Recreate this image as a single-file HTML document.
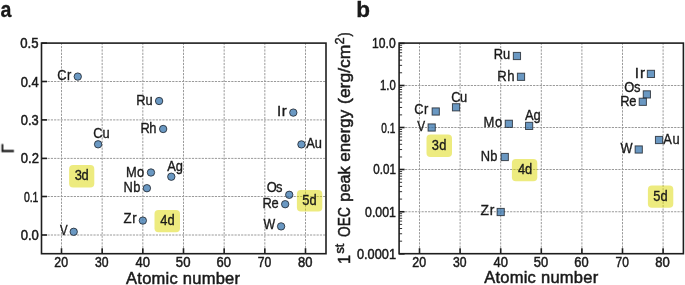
<!DOCTYPE html>
<html><head><meta charset="utf-8"><style>
html,body{margin:0;padding:0;background:#fff;overflow:hidden;}
svg{display:block;}
</style></head><body>
<svg xmlns="http://www.w3.org/2000/svg" width="685" height="285" viewBox="0 0 685 285">
<rect width="685" height="285" fill="#fff"/>
<line x1="61.50" y1="43.10" x2="61.50" y2="253.70" stroke="#9a9a9a" stroke-width="1.0" stroke-dasharray="2.2 1.185" stroke-dashoffset="0.51"/>
<line x1="102.17" y1="43.10" x2="102.17" y2="253.70" stroke="#9a9a9a" stroke-width="1.0" stroke-dasharray="2.2 1.185" stroke-dashoffset="0.51"/>
<line x1="142.83" y1="43.10" x2="142.83" y2="253.70" stroke="#9a9a9a" stroke-width="1.0" stroke-dasharray="2.2 1.185" stroke-dashoffset="0.51"/>
<line x1="183.50" y1="43.10" x2="183.50" y2="253.70" stroke="#9a9a9a" stroke-width="1.0" stroke-dasharray="2.2 1.185" stroke-dashoffset="0.51"/>
<line x1="224.17" y1="43.10" x2="224.17" y2="253.70" stroke="#9a9a9a" stroke-width="1.0" stroke-dasharray="2.2 1.185" stroke-dashoffset="0.51"/>
<line x1="264.84" y1="43.10" x2="264.84" y2="253.70" stroke="#9a9a9a" stroke-width="1.0" stroke-dasharray="2.2 1.185" stroke-dashoffset="0.51"/>
<line x1="305.50" y1="43.10" x2="305.50" y2="253.70" stroke="#9a9a9a" stroke-width="1.0" stroke-dasharray="2.2 1.185" stroke-dashoffset="0.51"/>
<line x1="41.50" y1="235.00" x2="326.00" y2="235.00" stroke="#9a9a9a" stroke-width="1.0" stroke-dasharray="2.2 1.081" stroke-dashoffset="0.543"/>
<line x1="41.50" y1="196.50" x2="326.00" y2="196.50" stroke="#9a9a9a" stroke-width="1.0" stroke-dasharray="2.2 1.081" stroke-dashoffset="0.543"/>
<line x1="41.50" y1="158.40" x2="326.00" y2="158.40" stroke="#9a9a9a" stroke-width="1.0" stroke-dasharray="2.2 1.081" stroke-dashoffset="0.543"/>
<line x1="41.50" y1="119.90" x2="326.00" y2="119.90" stroke="#9a9a9a" stroke-width="1.0" stroke-dasharray="2.2 1.081" stroke-dashoffset="0.543"/>
<line x1="41.50" y1="81.50" x2="326.00" y2="81.50" stroke="#9a9a9a" stroke-width="1.0" stroke-dasharray="2.2 1.081" stroke-dashoffset="0.543"/>
<line x1="419.50" y1="43.10" x2="419.50" y2="253.70" stroke="#9a9a9a" stroke-width="1.0" stroke-dasharray="2.2 1.185" stroke-dashoffset="0.51"/>
<line x1="460.10" y1="43.10" x2="460.10" y2="253.70" stroke="#9a9a9a" stroke-width="1.0" stroke-dasharray="2.2 1.185" stroke-dashoffset="0.51"/>
<line x1="500.70" y1="43.10" x2="500.70" y2="253.70" stroke="#9a9a9a" stroke-width="1.0" stroke-dasharray="2.2 1.185" stroke-dashoffset="0.51"/>
<line x1="541.30" y1="43.10" x2="541.30" y2="253.70" stroke="#9a9a9a" stroke-width="1.0" stroke-dasharray="2.2 1.185" stroke-dashoffset="0.51"/>
<line x1="581.90" y1="43.10" x2="581.90" y2="253.70" stroke="#9a9a9a" stroke-width="1.0" stroke-dasharray="2.2 1.185" stroke-dashoffset="0.51"/>
<line x1="622.50" y1="43.10" x2="622.50" y2="253.70" stroke="#9a9a9a" stroke-width="1.0" stroke-dasharray="2.2 1.185" stroke-dashoffset="0.51"/>
<line x1="663.10" y1="43.10" x2="663.10" y2="253.70" stroke="#9a9a9a" stroke-width="1.0" stroke-dasharray="2.2 1.185" stroke-dashoffset="0.51"/>
<line x1="399.10" y1="85.50" x2="683.40" y2="85.50" stroke="#9a9a9a" stroke-width="1.0" stroke-dasharray="2.2 1.081" stroke-dashoffset="0.543"/>
<line x1="399.10" y1="127.50" x2="683.40" y2="127.50" stroke="#9a9a9a" stroke-width="1.0" stroke-dasharray="2.2 1.081" stroke-dashoffset="0.543"/>
<line x1="399.10" y1="169.50" x2="683.40" y2="169.50" stroke="#9a9a9a" stroke-width="1.0" stroke-dasharray="2.2 1.081" stroke-dashoffset="0.543"/>
<line x1="399.10" y1="211.75" x2="683.40" y2="211.75" stroke="#9a9a9a" stroke-width="1.0" stroke-dasharray="2.2 1.081" stroke-dashoffset="0.543"/>
<rect x="69.10" y="165.10" width="25.20" height="22.40" rx="4" ry="4" fill="#dcd800" fill-opacity="0.5"/>
<rect x="154.50" y="209.90" width="25.50" height="22.40" rx="4" ry="4" fill="#dcd800" fill-opacity="0.5"/>
<rect x="296.90" y="189.90" width="25.40" height="21.60" rx="4" ry="4" fill="#dcd800" fill-opacity="0.5"/>
<rect x="426.50" y="134.60" width="25.50" height="22.40" rx="4" ry="4" fill="#dcd800" fill-opacity="0.5"/>
<rect x="511.90" y="159.10" width="25.40" height="22.20" rx="4" ry="4" fill="#dcd800" fill-opacity="0.5"/>
<rect x="647.90" y="185.60" width="25.40" height="22.10" rx="4" ry="4" fill="#dcd800" fill-opacity="0.5"/>
<line x1="61.50" y1="253.70" x2="61.50" y2="248.20" stroke="#1e1e1e" stroke-width="1.6"/>
<line x1="102.17" y1="253.70" x2="102.17" y2="248.20" stroke="#1e1e1e" stroke-width="1.6"/>
<line x1="142.83" y1="253.70" x2="142.83" y2="248.20" stroke="#1e1e1e" stroke-width="1.6"/>
<line x1="183.50" y1="253.70" x2="183.50" y2="248.20" stroke="#1e1e1e" stroke-width="1.6"/>
<line x1="224.17" y1="253.70" x2="224.17" y2="248.20" stroke="#1e1e1e" stroke-width="1.6"/>
<line x1="264.84" y1="253.70" x2="264.84" y2="248.20" stroke="#1e1e1e" stroke-width="1.6"/>
<line x1="305.50" y1="253.70" x2="305.50" y2="248.20" stroke="#1e1e1e" stroke-width="1.6"/>
<line x1="41.50" y1="235.00" x2="47.00" y2="235.00" stroke="#1e1e1e" stroke-width="1.6"/>
<line x1="41.50" y1="196.50" x2="47.00" y2="196.50" stroke="#1e1e1e" stroke-width="1.6"/>
<line x1="41.50" y1="158.40" x2="47.00" y2="158.40" stroke="#1e1e1e" stroke-width="1.6"/>
<line x1="41.50" y1="119.90" x2="47.00" y2="119.90" stroke="#1e1e1e" stroke-width="1.6"/>
<line x1="41.50" y1="81.50" x2="47.00" y2="81.50" stroke="#1e1e1e" stroke-width="1.6"/>
<line x1="41.50" y1="43.12" x2="47.00" y2="43.12" stroke="#1e1e1e" stroke-width="1.6"/>
<rect x="41.50" y="43.10" width="284.50" height="210.60" fill="none" stroke="#1e1e1e" stroke-width="1.6"/>
<line x1="419.50" y1="253.70" x2="419.50" y2="248.20" stroke="#1e1e1e" stroke-width="1.6"/>
<line x1="460.10" y1="253.70" x2="460.10" y2="248.20" stroke="#1e1e1e" stroke-width="1.6"/>
<line x1="500.70" y1="253.70" x2="500.70" y2="248.20" stroke="#1e1e1e" stroke-width="1.6"/>
<line x1="541.30" y1="253.70" x2="541.30" y2="248.20" stroke="#1e1e1e" stroke-width="1.6"/>
<line x1="581.90" y1="253.70" x2="581.90" y2="248.20" stroke="#1e1e1e" stroke-width="1.6"/>
<line x1="622.50" y1="253.70" x2="622.50" y2="248.20" stroke="#1e1e1e" stroke-width="1.6"/>
<line x1="663.10" y1="253.70" x2="663.10" y2="248.20" stroke="#1e1e1e" stroke-width="1.6"/>
<line x1="399.10" y1="43.35" x2="404.60" y2="43.35" stroke="#1e1e1e" stroke-width="1.6"/>
<line x1="399.10" y1="85.50" x2="404.60" y2="85.50" stroke="#1e1e1e" stroke-width="1.6"/>
<line x1="399.10" y1="127.50" x2="404.60" y2="127.50" stroke="#1e1e1e" stroke-width="1.6"/>
<line x1="399.10" y1="169.50" x2="404.60" y2="169.50" stroke="#1e1e1e" stroke-width="1.6"/>
<line x1="399.10" y1="211.75" x2="404.60" y2="211.75" stroke="#1e1e1e" stroke-width="1.6"/>
<line x1="399.10" y1="253.85" x2="404.60" y2="253.85" stroke="#1e1e1e" stroke-width="1.6"/>
<line x1="399.10" y1="241.18" x2="402.10" y2="241.18" stroke="#1e1e1e" stroke-width="0.9"/>
<line x1="399.10" y1="233.76" x2="402.10" y2="233.76" stroke="#1e1e1e" stroke-width="0.9"/>
<line x1="399.10" y1="228.50" x2="402.10" y2="228.50" stroke="#1e1e1e" stroke-width="0.9"/>
<line x1="399.10" y1="224.42" x2="402.10" y2="224.42" stroke="#1e1e1e" stroke-width="0.9"/>
<line x1="399.10" y1="221.09" x2="402.10" y2="221.09" stroke="#1e1e1e" stroke-width="0.9"/>
<line x1="399.10" y1="218.27" x2="402.10" y2="218.27" stroke="#1e1e1e" stroke-width="0.9"/>
<line x1="399.10" y1="215.83" x2="402.10" y2="215.83" stroke="#1e1e1e" stroke-width="0.9"/>
<line x1="399.10" y1="213.68" x2="402.10" y2="213.68" stroke="#1e1e1e" stroke-width="0.9"/>
<line x1="399.10" y1="199.08" x2="402.10" y2="199.08" stroke="#1e1e1e" stroke-width="0.9"/>
<line x1="399.10" y1="191.66" x2="402.10" y2="191.66" stroke="#1e1e1e" stroke-width="0.9"/>
<line x1="399.10" y1="186.40" x2="402.10" y2="186.40" stroke="#1e1e1e" stroke-width="0.9"/>
<line x1="399.10" y1="182.32" x2="402.10" y2="182.32" stroke="#1e1e1e" stroke-width="0.9"/>
<line x1="399.10" y1="178.99" x2="402.10" y2="178.99" stroke="#1e1e1e" stroke-width="0.9"/>
<line x1="399.10" y1="176.17" x2="402.10" y2="176.17" stroke="#1e1e1e" stroke-width="0.9"/>
<line x1="399.10" y1="173.73" x2="402.10" y2="173.73" stroke="#1e1e1e" stroke-width="0.9"/>
<line x1="399.10" y1="171.58" x2="402.10" y2="171.58" stroke="#1e1e1e" stroke-width="0.9"/>
<line x1="399.10" y1="156.98" x2="402.10" y2="156.98" stroke="#1e1e1e" stroke-width="0.9"/>
<line x1="399.10" y1="149.56" x2="402.10" y2="149.56" stroke="#1e1e1e" stroke-width="0.9"/>
<line x1="399.10" y1="144.30" x2="402.10" y2="144.30" stroke="#1e1e1e" stroke-width="0.9"/>
<line x1="399.10" y1="140.22" x2="402.10" y2="140.22" stroke="#1e1e1e" stroke-width="0.9"/>
<line x1="399.10" y1="136.89" x2="402.10" y2="136.89" stroke="#1e1e1e" stroke-width="0.9"/>
<line x1="399.10" y1="134.07" x2="402.10" y2="134.07" stroke="#1e1e1e" stroke-width="0.9"/>
<line x1="399.10" y1="131.63" x2="402.10" y2="131.63" stroke="#1e1e1e" stroke-width="0.9"/>
<line x1="399.10" y1="129.48" x2="402.10" y2="129.48" stroke="#1e1e1e" stroke-width="0.9"/>
<line x1="399.10" y1="114.88" x2="402.10" y2="114.88" stroke="#1e1e1e" stroke-width="0.9"/>
<line x1="399.10" y1="107.46" x2="402.10" y2="107.46" stroke="#1e1e1e" stroke-width="0.9"/>
<line x1="399.10" y1="102.20" x2="402.10" y2="102.20" stroke="#1e1e1e" stroke-width="0.9"/>
<line x1="399.10" y1="98.12" x2="402.10" y2="98.12" stroke="#1e1e1e" stroke-width="0.9"/>
<line x1="399.10" y1="94.79" x2="402.10" y2="94.79" stroke="#1e1e1e" stroke-width="0.9"/>
<line x1="399.10" y1="91.97" x2="402.10" y2="91.97" stroke="#1e1e1e" stroke-width="0.9"/>
<line x1="399.10" y1="89.53" x2="402.10" y2="89.53" stroke="#1e1e1e" stroke-width="0.9"/>
<line x1="399.10" y1="87.38" x2="402.10" y2="87.38" stroke="#1e1e1e" stroke-width="0.9"/>
<line x1="399.10" y1="72.78" x2="402.10" y2="72.78" stroke="#1e1e1e" stroke-width="0.9"/>
<line x1="399.10" y1="65.36" x2="402.10" y2="65.36" stroke="#1e1e1e" stroke-width="0.9"/>
<line x1="399.10" y1="60.10" x2="402.10" y2="60.10" stroke="#1e1e1e" stroke-width="0.9"/>
<line x1="399.10" y1="56.02" x2="402.10" y2="56.02" stroke="#1e1e1e" stroke-width="0.9"/>
<line x1="399.10" y1="52.69" x2="402.10" y2="52.69" stroke="#1e1e1e" stroke-width="0.9"/>
<line x1="399.10" y1="49.87" x2="402.10" y2="49.87" stroke="#1e1e1e" stroke-width="0.9"/>
<line x1="399.10" y1="47.43" x2="402.10" y2="47.43" stroke="#1e1e1e" stroke-width="0.9"/>
<line x1="399.10" y1="45.28" x2="402.10" y2="45.28" stroke="#1e1e1e" stroke-width="0.9"/>
<rect x="399.10" y="43.10" width="284.30" height="210.60" fill="none" stroke="#1e1e1e" stroke-width="1.6"/>
<g fill-opacity="0.75" stroke-opacity="0.75">
<circle cx="77.77" cy="76.60" r="3.7" fill="#3876ae" stroke="#151a20" stroke-width="1.0"/>
<circle cx="73.70" cy="231.80" r="3.7" fill="#3876ae" stroke="#151a20" stroke-width="1.0"/>
<circle cx="98.10" cy="144.30" r="3.7" fill="#3876ae" stroke="#151a20" stroke-width="1.0"/>
<circle cx="159.10" cy="101.00" r="3.7" fill="#3876ae" stroke="#151a20" stroke-width="1.0"/>
<circle cx="163.17" cy="129.00" r="3.7" fill="#3876ae" stroke="#151a20" stroke-width="1.0"/>
<circle cx="150.97" cy="172.50" r="3.7" fill="#3876ae" stroke="#151a20" stroke-width="1.0"/>
<circle cx="146.90" cy="188.20" r="3.7" fill="#3876ae" stroke="#151a20" stroke-width="1.0"/>
<circle cx="171.30" cy="176.70" r="3.7" fill="#3876ae" stroke="#151a20" stroke-width="1.0"/>
<circle cx="142.83" cy="220.60" r="3.7" fill="#3876ae" stroke="#151a20" stroke-width="1.0"/>
<circle cx="293.30" cy="112.60" r="3.7" fill="#3876ae" stroke="#151a20" stroke-width="1.0"/>
<circle cx="301.44" cy="144.40" r="3.7" fill="#3876ae" stroke="#151a20" stroke-width="1.0"/>
<circle cx="289.24" cy="194.80" r="3.7" fill="#3876ae" stroke="#151a20" stroke-width="1.0"/>
<circle cx="285.17" cy="204.20" r="3.7" fill="#3876ae" stroke="#151a20" stroke-width="1.0"/>
<circle cx="281.10" cy="226.40" r="3.7" fill="#3876ae" stroke="#151a20" stroke-width="1.0"/>
<rect x="513.34" y="52.40" width="7.2" height="7.2" fill="#3876ae" stroke="#151a20" stroke-width="1.0"/>
<rect x="517.40" y="73.20" width="7.2" height="7.2" fill="#3876ae" stroke="#151a20" stroke-width="1.0"/>
<rect x="432.14" y="107.90" width="7.2" height="7.2" fill="#3876ae" stroke="#151a20" stroke-width="1.0"/>
<rect x="428.08" y="123.90" width="7.2" height="7.2" fill="#3876ae" stroke="#151a20" stroke-width="1.0"/>
<rect x="452.44" y="103.70" width="7.2" height="7.2" fill="#3876ae" stroke="#151a20" stroke-width="1.0"/>
<rect x="505.22" y="120.20" width="7.2" height="7.2" fill="#3876ae" stroke="#151a20" stroke-width="1.0"/>
<rect x="525.52" y="122.30" width="7.2" height="7.2" fill="#3876ae" stroke="#151a20" stroke-width="1.0"/>
<rect x="501.16" y="153.40" width="7.2" height="7.2" fill="#3876ae" stroke="#151a20" stroke-width="1.0"/>
<rect x="497.10" y="208.40" width="7.2" height="7.2" fill="#3876ae" stroke="#151a20" stroke-width="1.0"/>
<rect x="647.32" y="70.30" width="7.2" height="7.2" fill="#3876ae" stroke="#151a20" stroke-width="1.0"/>
<rect x="643.26" y="90.80" width="7.2" height="7.2" fill="#3876ae" stroke="#151a20" stroke-width="1.0"/>
<rect x="639.20" y="98.20" width="7.2" height="7.2" fill="#3876ae" stroke="#151a20" stroke-width="1.0"/>
<rect x="635.14" y="145.90" width="7.2" height="7.2" fill="#3876ae" stroke="#151a20" stroke-width="1.0"/>
<rect x="655.44" y="136.40" width="7.2" height="7.2" fill="#3876ae" stroke="#151a20" stroke-width="1.0"/>
</g>
<g font-family='"Liberation Sans", sans-serif' fill="#1a1a1a" stroke="#1a1a1a" stroke-width="0.5" opacity="0.999">
<text transform="translate(57.18,80.03) scale(0.9200,1)" font-size="14" font-weight="normal" letter-spacing="0.44" stroke-width="0.35">Cr</text>
<text transform="translate(93.33,138.08) scale(0.9200,1)" font-size="14" font-weight="normal" letter-spacing="-0.01" stroke-width="0.35">Cu</text>
<text transform="translate(136.24,104.65) scale(0.9200,1)" font-size="14" font-weight="normal" letter-spacing="-0.16" stroke-width="0.35">Ru</text>
<text transform="translate(140.43,132.95) scale(0.9200,1)" font-size="14" font-weight="normal" letter-spacing="-0.44" stroke-width="0.35">Rh</text>
<text transform="translate(126.03,176.57) scale(0.9200,1)" font-size="14" font-weight="normal" letter-spacing="0.31" stroke-width="0.35">Mo</text>
<text transform="translate(123.46,192.36) scale(0.9200,1)" font-size="14" font-weight="normal" letter-spacing="0.59" stroke-width="0.35">Nb</text>
<text transform="translate(167.15,170.65) scale(0.9200,1)" font-size="14" font-weight="normal" letter-spacing="0.04" stroke-width="0.35">Ag</text>
<text transform="translate(123.47,223.45) scale(0.9462,1)" font-size="14" font-weight="normal" letter-spacing="0.70" stroke-width="0.35">Zr</text>
<text transform="translate(59.88,235.22) scale(0.8150,1)" font-size="14" font-weight="normal" stroke-width="0.35">V</text>
<text transform="translate(276.97,116.35) scale(1.0775,1)" font-size="14" font-weight="normal" letter-spacing="0.64" stroke-width="0.35">Ir</text>
<text transform="translate(306.33,147.55) scale(0.9200,1)" font-size="14" font-weight="normal" letter-spacing="-0.16" stroke-width="0.35">Au</text>
<text transform="translate(266.79,192.29) scale(0.9200,1)" font-size="14" font-weight="normal" letter-spacing="-0.88" stroke-width="0.35">Os</text>
<text transform="translate(262.43,208.34) scale(0.9200,1)" font-size="14" font-weight="normal" letter-spacing="-0.36" stroke-width="0.35">Re</text>
<text transform="translate(263.46,229.32) scale(0.8846,1)" font-size="14" font-weight="normal" stroke-width="0.35">W</text>
<text transform="translate(493.85,58.99) scale(0.9200,1)" font-size="14" font-weight="normal" letter-spacing="-0.24" stroke-width="0.35">Ru</text>
<text transform="translate(497.20,81.04) scale(0.9385,1)" font-size="14" font-weight="normal" letter-spacing="0.65" stroke-width="0.35">Rh</text>
<text transform="translate(414.18,114.47) scale(0.9200,1)" font-size="14" font-weight="normal" letter-spacing="0.66" stroke-width="0.35">Cr</text>
<text transform="translate(417.16,130.51) scale(0.8440,1)" font-size="14" font-weight="normal" stroke-width="0.35">V</text>
<text transform="translate(451.18,101.50) scale(0.9200,1)" font-size="14" font-weight="normal" letter-spacing="-0.40" stroke-width="0.35">Cu</text>
<text transform="translate(483.38,127.20) scale(0.9340,1)" font-size="14" font-weight="normal" letter-spacing="0.83" stroke-width="0.35">Mo</text>
<text transform="translate(524.89,120.36) scale(0.9200,1)" font-size="14" font-weight="normal" letter-spacing="0.15" stroke-width="0.35">Ag</text>
<text transform="translate(480.85,161.15) scale(0.9200,1)" font-size="14" font-weight="normal" letter-spacing="0.17" stroke-width="0.35">Nb</text>
<text transform="translate(480.53,214.95) scale(0.9895,1)" font-size="14" font-weight="normal" letter-spacing="0.90" stroke-width="0.35">Zr</text>
<text transform="translate(634.86,77.57) scale(1.0892,1)" font-size="14" font-weight="normal" letter-spacing="0.80" stroke-width="0.35">Ir</text>
<text transform="translate(624.34,91.96) scale(0.9200,1)" font-size="14" font-weight="normal" letter-spacing="-0.33" stroke-width="0.35">Os</text>
<text transform="translate(620.17,105.50) scale(0.9200,1)" font-size="14" font-weight="normal" letter-spacing="-0.13" stroke-width="0.35">Re</text>
<text transform="translate(620.44,152.95) scale(0.9147,1)" font-size="14" font-weight="normal" stroke-width="0.35">W</text>
<text transform="translate(663.33,143.58) scale(0.9200,1)" font-size="14" font-weight="normal" letter-spacing="0.71" stroke-width="0.35">Au</text>
<text transform="translate(74.71,180.47) scale(0.9200,1)" font-size="14" font-weight="normal" letter-spacing="-0.35" stroke-width="0.35">3d</text>
<text transform="translate(160.31,225.05) scale(0.9200,1)" font-size="14" font-weight="normal" letter-spacing="-0.06" stroke-width="0.35">4d</text>
<text transform="translate(302.34,204.75) scale(0.9200,1)" font-size="14" font-weight="normal" letter-spacing="0.05" stroke-width="0.35">5d</text>
<text transform="translate(431.75,150.42) scale(0.9200,1)" font-size="14" font-weight="normal" letter-spacing="0.25" stroke-width="0.35">3d</text>
<text transform="translate(517.92,174.19) scale(0.9200,1)" font-size="14" font-weight="normal" letter-spacing="-0.18" stroke-width="0.35">4d</text>
<text transform="translate(653.34,200.55) scale(0.9200,1)" font-size="14" font-weight="normal" letter-spacing="0.05" stroke-width="0.35">5d</text>
<text transform="translate(0.54,17.12) scale(0.9121,1)" font-size="21.5" font-weight="bold" stroke-width="0.3">a</text>
<text transform="translate(356.34,16.69) scale(1.0469,1)" font-size="21.5" font-weight="bold" stroke-width="0.3">b</text>
<text transform="translate(126.12,284.06) scale(1.0000,1)" font-size="16.5" font-weight="normal" letter-spacing="0.24">Atomic number</text>
<text transform="translate(484.13,283.46) scale(1.0000,1)" font-size="16.5" font-weight="normal" letter-spacing="0.26">Atomic number</text>
<text transform="translate(20.65,240.45) scale(0.9337,1)" font-size="14" font-weight="normal">0.0</text>
<text transform="translate(23.89,201.64) scale(0.7474,1)" font-size="14" font-weight="normal">0.1</text>
<text transform="translate(20.82,163.44) scale(0.9318,1)" font-size="14" font-weight="normal">0.2</text>
<text transform="translate(20.79,124.98) scale(0.9203,1)" font-size="14" font-weight="normal">0.3</text>
<text transform="translate(20.63,86.84) scale(0.9232,1)" font-size="14" font-weight="normal">0.4</text>
<text transform="translate(20.28,47.78) scale(0.9399,1)" font-size="14" font-weight="normal">0.5</text>
<text transform="translate(372.07,48.02) scale(0.8639,1)" font-size="14" font-weight="normal">10.0</text>
<text transform="translate(380.10,90.02) scale(0.8064,1)" font-size="14" font-weight="normal">1.0</text>
<text transform="translate(381.37,132.63) scale(0.7230,1)" font-size="14" font-weight="normal">0.1</text>
<text transform="translate(373.22,174.15) scale(0.8308,1)" font-size="14" font-weight="normal">0.01</text>
<text transform="translate(365.09,216.76) scale(0.8783,1)" font-size="14" font-weight="normal">0.001</text>
<text transform="translate(356.98,258.56) scale(0.9123,1)" font-size="14" font-weight="normal">0.0001</text>
<text transform="translate(54.33,266.60) scale(0.8808,1)" font-size="14" font-weight="normal">20</text>
<text transform="translate(412.29,266.60) scale(0.8860,1)" font-size="14" font-weight="normal">20</text>
<text transform="translate(95.09,266.60) scale(0.8716,1)" font-size="14" font-weight="normal">30</text>
<text transform="translate(453.04,266.60) scale(0.8710,1)" font-size="14" font-weight="normal">30</text>
<text transform="translate(135.47,266.60) scale(0.9304,1)" font-size="14" font-weight="normal">40</text>
<text transform="translate(493.41,266.60) scale(0.9275,1)" font-size="14" font-weight="normal">40</text>
<text transform="translate(175.84,266.60) scale(0.9390,1)" font-size="14" font-weight="normal">50</text>
<text transform="translate(533.87,266.60) scale(0.9225,1)" font-size="14" font-weight="normal">50</text>
<text transform="translate(216.57,266.60) scale(0.9282,1)" font-size="14" font-weight="normal">60</text>
<text transform="translate(574.31,266.60) scale(0.9202,1)" font-size="14" font-weight="normal">60</text>
<text transform="translate(257.84,266.60) scale(0.8689,1)" font-size="14" font-weight="normal">70</text>
<text transform="translate(615.55,266.60) scale(0.8538,1)" font-size="14" font-weight="normal">70</text>
<text transform="translate(297.96,266.60) scale(0.9263,1)" font-size="14" font-weight="normal">80</text>
<text transform="translate(655.34,266.60) scale(0.9353,1)" font-size="14" font-weight="normal">80</text>
</g>
<g opacity="0.999">
<text transform="translate(13.7,148.5) rotate(-90)" font-family='"Liberation Sans", sans-serif' font-size="17" text-anchor="middle" fill="#1a1a1a" stroke="#1a1a1a" stroke-width="0.5">Γ</text>
<text transform="translate(349.92,263.94) rotate(-90) scale(0.9389,1)" font-family='"Liberation Sans", sans-serif' font-size="17.3" fill="#1a1a1a" stroke="#1a1a1a" stroke-width="0.5">1</text>
<text transform="translate(344.14,253.46) rotate(-90) scale(1.0130,1)" font-family='"Liberation Sans", sans-serif' font-size="12.5" fill="#1a1a1a" stroke="#1a1a1a" stroke-width="0.5">st</text>
<text transform="translate(349.92,236.88) rotate(-90) scale(0.7918,1)" font-family='"Liberation Sans", sans-serif' font-size="17.3" fill="#1a1a1a" stroke="#1a1a1a" stroke-width="0.5">OEC</text>
<text transform="translate(349.92,201.70) rotate(-90) scale(0.9438,1)" font-family='"Liberation Sans", sans-serif' font-size="17.3" fill="#1a1a1a" stroke="#1a1a1a" stroke-width="0.5">peak</text>
<text transform="translate(349.92,161.82) rotate(-90) scale(0.9834,1)" font-family='"Liberation Sans", sans-serif' font-size="17.3" fill="#1a1a1a" stroke="#1a1a1a" stroke-width="0.5">energy</text>
<text transform="translate(349.92,103.93) rotate(-90) scale(1.0103,1)" font-family='"Liberation Sans", sans-serif' font-size="17.3" fill="#1a1a1a" stroke="#1a1a1a" stroke-width="0.5">(erg/cm</text>
<text transform="translate(343.51,44.50) rotate(-90) scale(1.0174,1)" font-family='"Liberation Sans", sans-serif' font-size="12.5" fill="#1a1a1a" stroke="#1a1a1a" stroke-width="0.5">2</text>
<text transform="translate(349.92,36.57) rotate(-90) scale(0.7000,1)" font-family='"Liberation Sans", sans-serif' font-size="17.3" fill="#1a1a1a" stroke="#1a1a1a" stroke-width="0.5">)</text>
</g>
</svg>
</body></html>
